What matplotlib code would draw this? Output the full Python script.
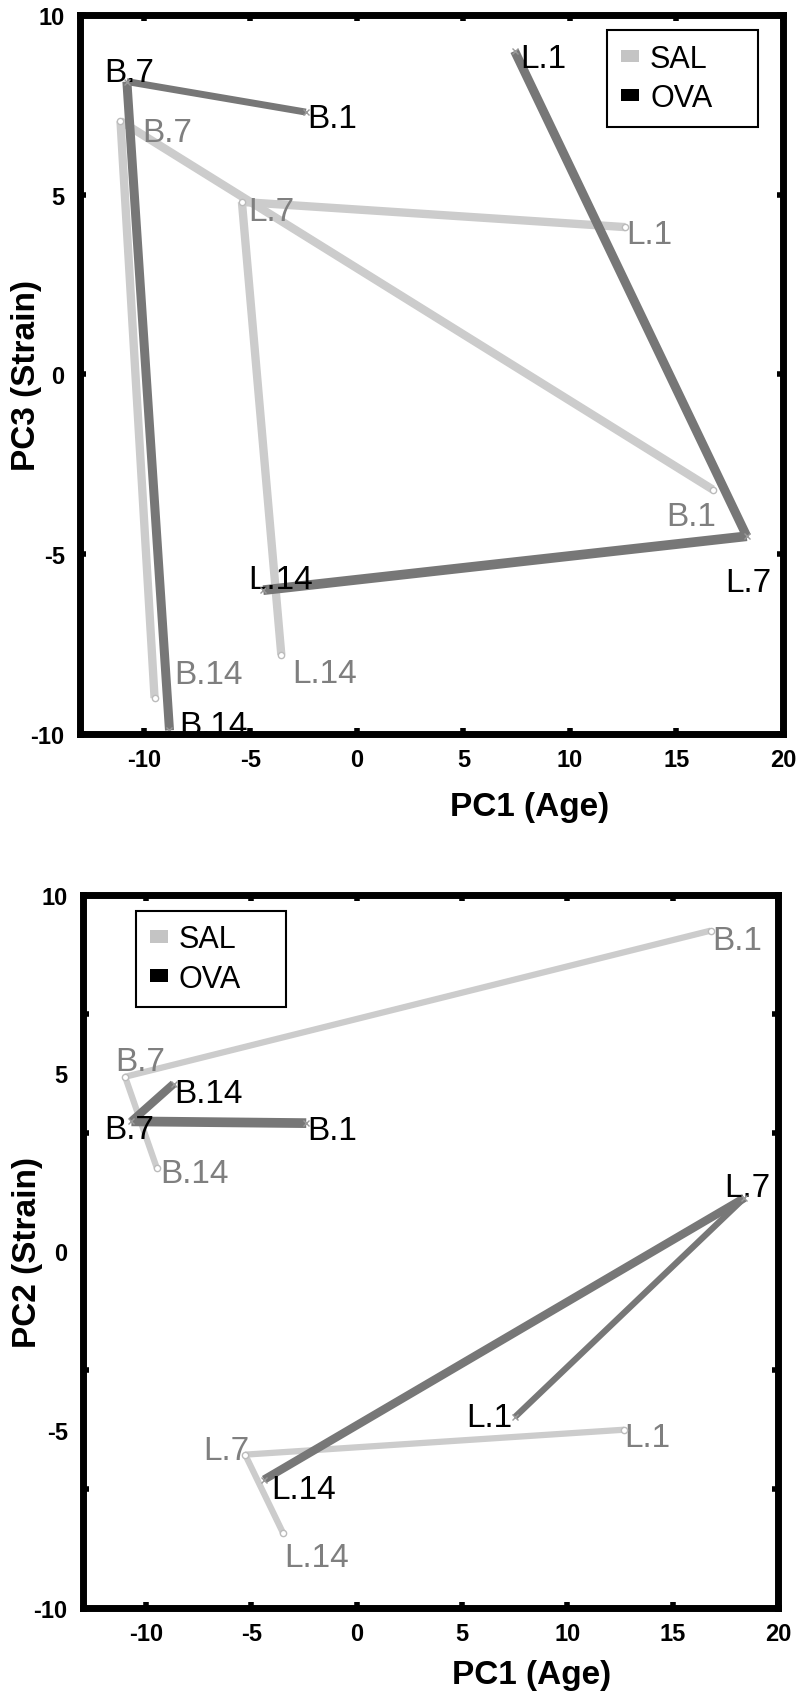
import numpy as np
import matplotlib
matplotlib.use("Agg")
import matplotlib.pyplot as plt
from matplotlib.patches import Patch

plt.rcParams['font.family'] = ['Liberation Sans', 'DejaVu Sans']
plt.rcParams['axes.unicode_minus'] = False

# Trajectoires (jours 1 -> 7 -> 14), PC1 vs PC3 (haut) et PC1 vs PC2 (bas)
days = ["1", "7", "14"]

# --- PC3 ---
pc3_sal_b_x = [16.7, -11.1, -9.5]
pc3_sal_b_y = [-3.2, 7.05, -9.0]
pc3_sal_l_x = [12.6, -5.4, -3.55]
pc3_sal_l_y = [4.1, 4.8, -7.8]
pc3_ova_b_x = [-2.4, -10.8, -8.8]
pc3_ova_b_y = [7.3, 8.15, -9.9]
pc3_ova_l_x = [7.4, 18.3, -4.4]
pc3_ova_l_y = [9.0, -4.5, -6.0]

# --- PC2 ---
pc2_sal_b_x = [16.8, -11.0, -9.5]
pc2_sal_b_y = [9.0, 4.9, 2.35]
pc2_sal_l_x = [12.7, -5.3, -3.5]
pc2_sal_l_y = [-5.0, -5.7, -7.9]
pc2_ova_b_x = [-2.4, -10.7, -8.7]
pc2_ova_b_y = [3.6, 3.65, 4.7]
pc2_ova_l_x = [7.5, 18.4, -4.4]
pc2_ova_l_y = [-4.65, 1.5, -6.4]

SAL_LINE = "#cccccc"
OVA_LINE = "#777777"
SAL_TXT = "#7f7f7f"
OVA_TXT = "black"

# style : largeurs des segments (1->7, 7->14) et décalages des étiquettes (px, ha)
top_style = {
    ("SAL", "B"): ([6, 6], [(3, -35, "right"), (22, -20, "left"), (20, 15, "left")]),
    ("SAL", "L"): ([6, 6], [(1, -16, "left"), (6, -18, "left"), (11, -27, "left")]),
    ("OVA", "B"): ([5, 6.5], [(1, -15, "left"), (-23, 1, "left"), (10, -4, "left")]),
    ("OVA", "L"): ([6.5, 7], [(6, -16, "left"), (-22, -55, "left"), (-15, 2, "left")]),
}
bot_style = {
    ("SAL", "B"): ([4.5, 4.5], [(2, -18, "left"), (-10, 7, "left"), (4, -14, "left")]),
    ("SAL", "L"): ([4.5, 4.5], [(0, -16, "left"), (4, -4, "right"), (1, -33, "left")]),
    ("OVA", "B"): ([7, 6], [(1, -16, "left"), (-27, -17, "left"), (1, -18, "left")]),
    ("OVA", "L"): ([4.5, 6], [(-2, -9, "right"), (-20, 2, "left"), (7, -18, "left")]),
}


def draw_panel(ax, series, style, ylabel, minor_y=False):
    for (grp, strain), (xs, ys) in series.items():
        widths, offs = style[(grp, strain)]
        lc = SAL_LINE if grp == "SAL" else OVA_LINE
        tc = SAL_TXT if grp == "SAL" else OVA_TXT
        for i in range(2):
            ax.plot(xs[i:i + 2], ys[i:i + 2], color=lc, lw=widths[i],
                    solid_capstyle="butt", zorder=2)
        if grp == "SAL":
            ax.plot(xs, ys, ls="none", marker="o", ms=4.5, mfc="white",
                    mec="#bbbbbb", mew=1, zorder=2.2)
        else:
            ax.plot(xs, ys, ls="none", marker="x", ms=4, mec="#999999",
                    mew=1, zorder=2.2)
        for i, d in enumerate(days):
            dx, dy, ha = offs[i]
            ax.annotate(f"{strain}.{d}", (xs[i], ys[i]), xytext=(dx, dy),
                        textcoords="offset pixels", ha=ha, va="baseline",
                        fontsize=24, color=tc, zorder=2.1)

    ax.set_xlim(-13, 20)
    ax.set_ylim(-10, 10)
    ax.set_xticks([-10, -5, 0, 5, 10, 15, 20])
    ax.set_yticks([-10, -5, 0, 5, 10])
    for s in ax.spines.values():
        s.set_linewidth(5)
    ax.tick_params(which="both", direction="in", length=4, width=4,
                   top=True, right=True, labelsize=17)
    ax.tick_params(axis="x", pad=10)
    ax.tick_params(axis="y", pad=11)
    if minor_y:
        ax.set_yticks(np.arange(-10, 10.01, 10 / 3), minor=True)
        ax.tick_params(axis="y", which="major", length=0)
    for lab in ax.get_xticklabels() + ax.get_yticklabels():
        lab.set_fontweight("bold")
    ax.set_xlabel("PC1 (Age)", fontsize=24, fontweight="bold")
    ax.set_ylabel(ylabel, fontsize=24, fontweight="bold")


fig = plt.figure(figsize=(8.01, 17.06), dpi=100)

ax1 = fig.add_axes([0.0999, 0.5692, 0.8776, 0.4214])
draw_panel(ax1, {
    ("SAL", "B"): (pc3_sal_b_x, pc3_sal_b_y),
    ("SAL", "L"): (pc3_sal_l_x, pc3_sal_l_y),
    ("OVA", "B"): (pc3_ova_b_x, pc3_ova_b_y),
    ("OVA", "L"): (pc3_ova_l_x, pc3_ova_l_y),
}, top_style, "PC3 (Strain)")
ax1.xaxis.set_label_coords(0.64, -0.079)
ax1.yaxis.set_label_coords(-0.054, 0.5)

ax2 = fig.add_axes([0.1036, 0.0569, 0.8677, 0.4179])
draw_panel(ax2, {
    ("SAL", "B"): (pc2_sal_b_x, pc2_sal_b_y),
    ("SAL", "L"): (pc2_sal_l_x, pc2_sal_l_y),
    ("OVA", "B"): (pc2_ova_b_x, pc2_ova_b_y),
    ("OVA", "L"): (pc2_ova_l_x, pc2_ova_l_y),
}, bot_style, "PC2 (Strain)", minor_y=True)
ax2.xaxis.set_label_coords(0.645, -0.0715)
ax2.yaxis.set_label_coords(-0.058, 0.5)

handles = [Patch(facecolor="#c4c4c4", edgecolor="none", label="SAL"),
           Patch(facecolor="black", edgecolor="none", label="OVA")]
leg_kw = dict(fontsize=22, frameon=True, fancybox=False, framealpha=1,
              edgecolor="black", handlelength=0.6, handleheight=0.25,
              handletextpad=0.35, labelspacing=0.3, borderpad=0.45,
              borderaxespad=0, mode="expand")
l1 = ax1.legend(handles=handles, loc="upper left",
                bbox_to_anchor=(0.75, 0.857, 0.214, 0.122), **leg_kw)
l1.get_frame().set_linewidth(1.5)
l2 = ax2.legend(handles=handles, loc="upper left",
                bbox_to_anchor=(0.076, 0.855, 0.216, 0.123), **leg_kw)
l2.get_frame().set_linewidth(1.5)

fig.savefig("out.png", dpi=100)
